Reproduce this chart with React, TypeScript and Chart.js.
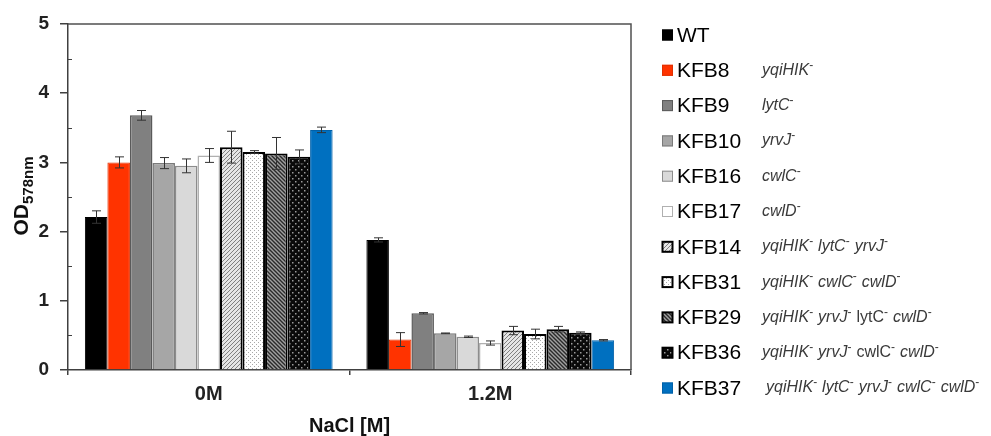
import React, { useEffect, useRef } from "react";
import { Chart, registerables } from "chart.js";

Chart.register(...registerables);

const categories = ["0M", "1.2M"];
const strains = ["WT", "KFB8", "KFB9", "KFB10", "KFB16", "KFB17", "KFB14", "KFB31", "KFB29", "KFB36", "KFB37"];
const od0M = [2.21, 3.0, 3.68, 2.99, 2.95, 3.1, 3.22, 3.15, 3.13, 3.08, 3.47];
const od12M = [1.88, 0.44, 0.82, 0.53, 0.48, 0.39, 0.57, 0.52, 0.59, 0.54, 0.43];
const err0M = [0.09, 0.08, 0.07, 0.08, 0.1, 0.1, 0.23, 0.02, 0.23, 0.1, 0.04];
const err12M = [0.03, 0.1, 0.01, 0.005, 0.01, 0.03, 0.06, 0.07, 0.04, 0.01, 0.01];
// gene annotations; "^" prefix = upright (non-italic) gene name
const genes = [
  [],
  ["yqiHIK"],
  ["lytC"],
  ["yrvJ"],
  ["cwlC"],
  ["cwlD"],
  ["yqiHIK", "lytC", "yrvJ"],
  ["yqiHIK", "cwlC", "cwlD"],
  ["yqiHIK", "yrvJ", "^lytC", "cwlD"],
  ["yqiHIK", "yrvJ", "^cwlC", "cwlD"],
  ["yqiHIK", "lytC", "yrvJ", "cwlC", "cwlD"],
];
const yTicks = [0, 1, 2, 3, 4, 5];
const yMinorTicks = [0.5, 1.5, 2.5, 3.5, 4.5];

const FAMILY = "'Liberation Sans', Arial, sans-serif";

function makePattern(kind: string): CanvasPattern | string {
  const c = document.createElement("canvas");
  const ctx = c.getContext("2d")!;
  if (kind === "hatchLight") {
    const s = 4;
    c.width = s; c.height = s;
    ctx.fillStyle = "#e6e6e6"; ctx.fillRect(0, 0, s, s);
    ctx.strokeStyle = "#808080"; ctx.lineWidth = 1;
    ctx.beginPath();
    ctx.moveTo(0, s); ctx.lineTo(s, 0);
    ctx.moveTo(-1, 1); ctx.lineTo(1, -1);
    ctx.moveTo(s - 1, s + 1); ctx.lineTo(s + 1, s - 1);
    ctx.stroke();
  } else if (kind === "hatchDark") {
    const s = 4;
    c.width = s; c.height = s;
    ctx.fillStyle = "#a0a0a0"; ctx.fillRect(0, 0, s, s);
    ctx.strokeStyle = "#2a2a2a"; ctx.lineWidth = 1.4;
    ctx.beginPath();
    ctx.moveTo(0, 0); ctx.lineTo(s, s);
    ctx.moveTo(-1, s - 1); ctx.lineTo(1, s + 1);
    ctx.moveTo(s - 1, -1); ctx.lineTo(s + 1, 1);
    ctx.stroke();
  } else if (kind === "dotsLight") {
    const s = 4;
    c.width = s; c.height = s;
    ctx.fillStyle = "#ffffff"; ctx.fillRect(0, 0, s, s);
    ctx.fillStyle = "#a8a8a8";
    ctx.fillRect(0, 0, 1, 1);
    ctx.fillRect(2, 2, 1, 1);
  } else if (kind === "dotsDark") {
    const s = 6;
    c.width = s; c.height = s;
    ctx.fillStyle = "#0a0a0a"; ctx.fillRect(0, 0, s, s);
    ctx.fillStyle = "#9a9a9a";
    ctx.fillRect(1, 1, 1.5, 1.5);
    ctx.fillRect(4, 4, 1.5, 1.5);
  }
  const p = ctx.createPattern(c, "repeat");
  return p || "#ccc";
}

export default function App() {
  const ref = useRef<HTMLCanvasElement>(null);

  useEffect(() => {
    document.body.style.margin = "0";
    const canvas = ref.current!;
    const fills: (string | CanvasPattern)[] = [
      "#000000",
      "#ff3300",
      "#808080",
      "#a6a6a6",
      "#d9d9d9",
      "#ffffff",
      makePattern("hatchLight"),
      makePattern("dotsLight"),
      makePattern("hatchDark"),
      makePattern("dotsDark"),
      "#0070c0",
    ];
    const borders = ["#000000", "#e03000", "#5a5a5a", "#7a7a7a", "#8c8c8c", "#b0b0b0", "#000000", "#000000", "#000000", "#000000", "#0060a8"];
    const borderWidths = [1, 1, 1.5, 1.5, 1.5, 1.5, 2, 2, 2, 2, 1];
    const errs = strains.map((_, i) => [err0M[i], err12M[i]]);

    const datasets = strains.map((s, i) => ({
      label: s,
      data: [od0M[i], od12M[i]],
      backgroundColor: fills[i] as any,
      borderColor: borders[i],
      borderWidth: borderWidths[i],
      categoryPercentage: 0.88,
      barPercentage: 1.0,
    }));

    const decorPlugin = {
      id: "decor",
      afterDatasetsDraw(chart: any) {
        const ctx = chart.ctx;
        const y = chart.scales.y;
        ctx.save();
        ctx.strokeStyle = "#333";
        ctx.lineWidth = 1;
        chart.data.datasets.forEach((ds: any, d: number) => {
          const meta = chart.getDatasetMeta(d);
          meta.data.forEach((bar: any, j: number) => {
            const v = ds.data[j];
            const e = errs[d][j];
            const x = Math.round(bar.x) + 0.5;
            const yt = y.getPixelForValue(v + e);
            const yb = y.getPixelForValue(v - e);
            ctx.beginPath();
            ctx.moveTo(x, yt); ctx.lineTo(x, yb);
            ctx.moveTo(x - 4.5, yt); ctx.lineTo(x + 4.5, yt);
            ctx.moveTo(x - 4.5, yb); ctx.lineTo(x + 4.5, yb);
            ctx.stroke();
          });
        });
        ctx.restore();
      },
      afterDraw(chart: any) {
        const ctx = chart.ctx;
        const a = chart.chartArea;
        const y = chart.scales.y;
        ctx.save();
        // frame top and right
        ctx.strokeStyle = "#505050";
        ctx.lineWidth = 1.5;
        ctx.beginPath();
        ctx.moveTo(a.left, a.top);
        ctx.lineTo(a.right, a.top);
        ctx.lineTo(a.right, a.bottom);
        ctx.stroke();
        // minor ticks inside
        ctx.lineWidth = 1.2;
        ctx.strokeStyle = "#404040";
        ctx.beginPath();
        yMinorTicks.forEach((v) => {
          const py = Math.round(y.getPixelForValue(v)) + 0.5;
          ctx.moveTo(a.left, py);
          ctx.lineTo(a.left + 4, py);
        });
        ctx.stroke();
        // y title with subscript
        ctx.fillStyle = "#111";
        ctx.translate(28, 196);
        ctx.rotate(-Math.PI / 2);
        ctx.font = `bold 21px ${FAMILY}`;
        const odW = ctx.measureText("OD").width;
        ctx.font = `bold 15px ${FAMILY}`;
        const subW = ctx.measureText("578nm").width;
        const start = -(odW + subW) / 2;
        ctx.textBaseline = "alphabetic";
        ctx.textAlign = "left";
        ctx.font = `bold 21px ${FAMILY}`;
        ctx.fillText("OD", start, 0);
        ctx.font = `bold 15px ${FAMILY}`;
        ctx.fillText("578nm", start + odW, 5);
        ctx.restore();

        ctx.save();
        // x title
        ctx.fillStyle = "#111";
        ctx.font = `bold 20px ${FAMILY}`;
        ctx.textAlign = "center";
        ctx.textBaseline = "middle";
        ctx.fillText("NaCl [M]", (a.left + a.right) / 2, 426);

        // legend
        const lx = 662;
        const ly0 = 35;
        const step = 35.3;
        strains.forEach((s, i) => {
          const cy = ly0 + i * step;
          ctx.fillStyle = fills[i] as any;
          ctx.fillRect(lx, cy - 5.5, 11, 11);
          ctx.strokeStyle = i >= 6 && i <= 9 ? "#000" : borders[i];
          ctx.lineWidth = i >= 6 && i <= 9 ? 2 : 1;
          ctx.strokeRect(lx + 0.5, cy - 5, 10, 10);
          ctx.fillStyle = "#000";
          ctx.font = `21px ${FAMILY}`;
          ctx.textAlign = "left";
          ctx.textBaseline = "middle";
          ctx.fillText(s, lx + 15, cy + 1);
          let gx = i === 10 ? 766 : 762;
          ctx.fillStyle = "#3a3a3a";
          genes[i].forEach((gRaw) => {
            const upright = gRaw.startsWith("^");
            const g = upright ? gRaw.slice(1) : gRaw;
            ctx.font = `${upright ? "" : "italic "}16px ${FAMILY}`;
            ctx.textBaseline = "middle";
            ctx.fillText(g, gx, cy);
            gx += ctx.measureText(g).width;
            ctx.font = `12px ${FAMILY}`;
            ctx.fillText("-", gx, cy - 5);
            gx += ctx.measureText("-").width + 5;
          });
        });
        ctx.restore();
      },
    };

    const chart = new Chart(canvas, {
      type: "bar",
      data: { labels: categories, datasets: datasets as any },
      options: {
        responsive: false,
        animation: false,
        layout: { padding: { left: 0, top: 24, right: 360, bottom: 0 } },
        plugins: { legend: { display: false }, tooltip: { enabled: false } },
        scales: {
          x: {
            grid: { display: true, drawOnChartArea: false, offset: true, tickLength: 5, color: "#404040", lineWidth: 1.5 },
            border: { display: true, color: "#404040", width: 1.5 },
            ticks: { font: { size: 20, weight: "bold", family: FAMILY }, color: "#222", padding: 7 },
            afterFit: (s: any) => { s.height = 66; },
          },
          y: {
            min: 0,
            max: 5,
            afterBuildTicks: (s: any) => { s.ticks = yTicks.map((v) => ({ value: v })); },
            ticks: { font: { size: 19, weight: "bold", family: FAMILY }, color: "#222", padding: 11 },
            grid: { display: true, drawOnChartArea: false, tickLength: 8, color: "#404040", lineWidth: 1.5 },
            border: { display: true, color: "#404040", width: 1.5 },
            afterFit: (s: any) => { s.width = 68; },
          },
        },
      } as any,
      plugins: [decorPlugin],
    });
    return () => chart.destroy();
  }, []);

  return (
    <div style={{ width: 991, height: 436, background: "#fff" }}>
      <canvas ref={ref} width={991} height={436} style={{ display: "block" }} />
    </div>
  );
}
